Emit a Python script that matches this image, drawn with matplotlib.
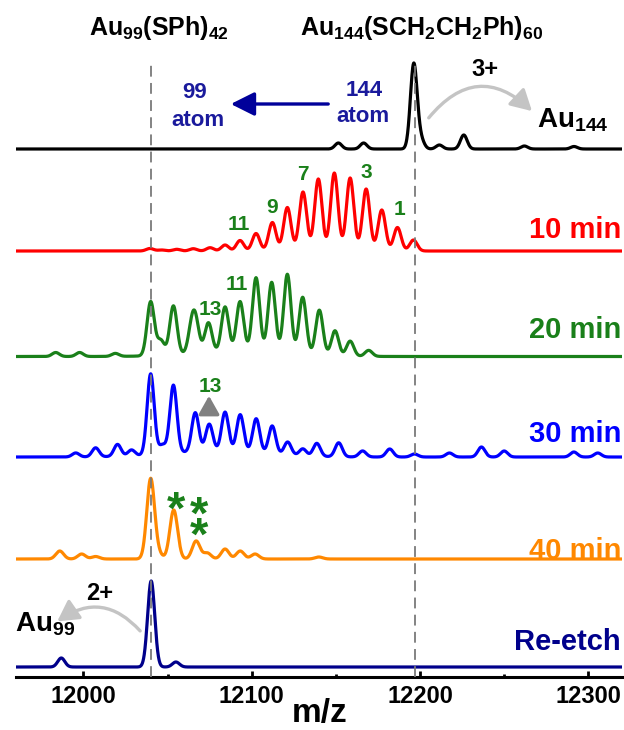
import numpy as np
import matplotlib
matplotlib.use("Agg")
import matplotlib.pyplot as plt
from matplotlib.patches import FancyArrowPatch
from matplotlib.ticker import MultipleLocator

plt.rcParams['font.family'] = ['Liberation Sans', 'DejaVu Sans']
plt.rcParams['font.weight'] = 'bold'
plt.rcParams['mathtext.fontset'] = 'custom'
plt.rcParams['mathtext.rm'] = 'Liberation Sans:bold'
plt.rcParams['mathtext.it'] = 'Liberation Sans:bold'
plt.rcParams['mathtext.bf'] = 'Liberation Sans:bold'
plt.rcParams['mathtext.default'] = 'rm'

# ---------------- data (peak lists) ----------------
spectrum_names = ['Au144', '10 min', '20 min', '30 min', '40 min', 'Re-etch']

au144_mz = [12151.5, 12166.5, 12196.3, 12200.5, 12211.5, 12226.0, 12262.0, 12291.5]
au144_int = [6, 6, 85, 9, 4, 14, 3, 2.5]

min10_mz = [12039.6, 12046.6, 12055.5, 12065.3, 12075.3, 12084.2, 12093.1, 12102.6, 12112.3,
            12121.2, 12130.5, 12139.6, 12149.1, 12158.5, 12168.0, 12177.3, 12186.6, 12196.1]
min10_int = [2.5, 1, 1.7, 2.3, 3.3, 6.0, 10.5, 17.5, 28.5, 43.5, 59, 72, 78, 73, 62, 41, 23.5, 11]

min20_mz = [11983.6, 11997.8, 12019.0, 12040.0, 12046.0, 12053.5, 12064.4, 12066.8, 12074.3, 12084.2,
            12093.1, 12102.6, 12111.9, 12121.2, 12130.3, 12140.2, 12149.5, 12158.5, 12169.5]
min20_int = [4, 4, 3, 54, 15, 49, 24, 27, 30, 45, 50, 74, 70, 79, 57, 45, 25, 15, 6]

min30_mz = [11995.5, 12007.3, 12020.3, 12028.6, 12040.0, 12047.0, 12053.5, 12066.5, 12074.8, 12084.2,
            12093.2, 12102.7, 12112.2, 12121.4, 12130.4, 12138.7, 12151.7, 12165.9, 12182.0, 12196.7,
            12217.5, 12236.5, 12250.0, 12291.4, 12305.6]
min30_int = [4, 9, 12, 6, 81, 9, 68, 39, 27, 39, 37, 34, 28, 13, 7, 13, 14, 6, 8, 3, 4, 10, 6, 5, 4]

min40_mz = [11986.0, 11999.0, 12007.3, 12040.0, 12044.5, 12053.7, 12067.0, 12073.6, 12084.2, 12093.2, 12102.0, 12139.9]
min40_int = [8, 5, 2.5, 80, 5, 49, 18, 6, 10, 8, 5, 2]

reetch_mz = [11986.9, 12040.3, 12055.0]
reetch_int = [9, 86, 5]

# broad underlying humps (m/z, intensity)
min20_hump = [12095.0, 5.0]
min30_hump = [12080.0, 6.0]

ref_mz = [12040.0, 12196.8]          # Au99(SPh)42 and Au144(SCH2CH2Ph)60
xticks = [12000, 12100, 12200, 12300]

# ---------------- layout / style ----------------
W, H = 624, 730
fig = plt.figure(figsize=(W / 100, H / 100), dpi=100)
AX_BOTTOM_PX = 677
ax = fig.add_axes([16 / W, (H - AX_BOTTOM_PX) / H, 606 / W, AX_BOTTOM_PX / H])
ax.set_xlim(11960, 12320)
ax.set_ylim(0, AX_BOTTOM_PX)

x = np.linspace(11960, 12320, 4000)


def profile(mz, inten, sigma, hump=None, hump_sigma=28.0):
    y = np.zeros_like(x)
    for m, h in zip(mz, inten):
        y += h * np.exp(-0.5 * ((x - m) / sigma) ** 2)
    if hump is not None:
        y += hump[1] * np.exp(-0.5 * ((x - hump[0]) / hump_sigma) ** 2)
    return y


baselines_px = [149, 251, 356.5, 457, 559, 667]
offsets = [AX_BOTTOM_PX - b for b in baselines_px]
colors = ['#000000', '#ff0000', '#1a801a', '#0000ff', '#ff8800', '#00008b']
sigmas = [2.0, 2.2, 2.15, 2.1, 2.3, 2.1]

series = [
    (au144_mz, au144_int, None),
    (min10_mz, min10_int, None),
    (min20_mz, min20_int, min20_hump),
    (min30_mz, min30_int, min30_hump),
    (min40_mz, min40_int, None),
    (reetch_mz, reetch_int, None),
]

for (mz, inten, hump), off, col, sg in zip(series, offsets, colors, sigmas):
    y = profile(mz, inten, sg, hump)
    ax.plot(x, off + y, color=col, lw=2.3, solid_joinstyle='round', zorder=2)

for m in ref_mz:
    ax.plot([m, m], [0, AX_BOTTOM_PX - 63], color='#7a7a7a', lw=1.3,
            dashes=(6, 3.5), zorder=3)

# axes styling
for s in ['left', 'right', 'top']:
    ax.spines[s].set_visible(False)
ax.spines['bottom'].set_linewidth(2.2)
ax.set_yticks([])
ax.set_xticks(xticks)
ax.set_xticklabels([str(t) for t in xticks])
ax.xaxis.set_minor_locator(MultipleLocator(50))
ax.tick_params(axis='x', which='major', direction='in', length=4, width=2,
               labelsize=17, pad=6)
ax.tick_params(axis='x', which='minor', direction='in', length=2, width=2)
for lab in ax.get_xticklabels():
    lab.set_fontweight('bold')

fig.text(0.5 * (16 + 622) / W + 1 / W, 1 - 722 / H, 'm/z', ha='center', va='baseline',
         fontsize=24, fontweight='bold')


def P(xp, yp):
    return (xp / W, 1 - yp / H)


def txt(xp, yp, s, **kw):
    fig.text(*P(xp, yp), s, **kw)


# titles
txt(159, 35, r'Au$_{99}$(SPh)$_{42}$', ha='center', va='baseline', fontsize=18)
txt(421.5, 35, r'Au$_{144}$(SCH$_2$CH$_2$Ph)$_{60}$', ha='center', va='baseline', fontsize=18)

# right-hand labels
right_label_y = [230, 330, 434, 551, 642]
for name, yp, col in zip(spectrum_names[1:], right_label_y, colors[1:]):
    txt(621, yp, name, ha='right', va='center', fontsize=21, color=col)

# charge-state annotations
txt(485, 69, '3+', ha='center', va='center', fontsize=17)
txt(537, 127, r'Au$_{144}$', ha='left', va='baseline', fontsize=20)
txt(100, 593, '2+', ha='center', va='center', fontsize=17)
txt(15, 631.5, r'Au$_{99}$', ha='left', va='baseline', fontsize=20)

gray_arrow = dict(arrowstyle='-|>,head_length=0.9,head_width=0.5', color='#c4c4c4',
                  lw=2.4, mutation_scale=14, transform=fig.transFigure)
fig.patches.append(FancyArrowPatch(P(427, 120), P(534, 113),
                                   connectionstyle='arc3,rad=-0.55', **gray_arrow))
fig.patches.append(FancyArrowPatch(P(142, 633), P(55, 623),
                                   connectionstyle='arc3,rad=0.46', **gray_arrow))

# 144 atom -> 99 atom
atom_col = '#1a1a9c'
txt(364.5, 91, '144', ha='center', va='center', fontsize=16, color=atom_col)
txt(363, 117, 'atom', ha='center', va='center', fontsize=16, color=atom_col)
txt(195, 93, '99', ha='center', va='center', fontsize=16, color=atom_col)
txt(198, 120, 'atom', ha='center', va='center', fontsize=16, color=atom_col)
fig.patches.append(FancyArrowPatch(P(331, 104), P(228, 104),
                                   arrowstyle='-|>,head_length=0.9,head_width=0.45',
                                   color='#00009a', lw=2.4, mutation_scale=16,
                                   transform=fig.transFigure))

# peak numbers
green = '#1a801a'
for s, xp, yp in [('11', 239, 225), ('9', 272.3, 207.3), ('7', 303.3, 175),
                  ('3', 366.7, 172.7), ('1', 399.3, 209.3),
                  ('13', 210, 309.3), ('11', 237.3, 285), ('13', 210.5, 386.5)]:
    txt(xp, yp, s, ha='center', va='center', fontsize=15, color=green)

fig.patches.append(FancyArrowPatch(P(209, 415), P(209, 393),
                                   arrowstyle='-|>,head_length=0.8,head_width=0.45',
                                   color='#808080', lw=2.4, mutation_scale=14,
                                   transform=fig.transFigure))

# asterisks
txt(175.7, 497 + 15, '*', ha='center', va='center', fontsize=34, color=green)
txt(199, 512 + 15, '*\n*', ha='center', va='center', fontsize=34, color=green,
    linespacing=0.34)

fig.savefig('out.png', dpi=100)
